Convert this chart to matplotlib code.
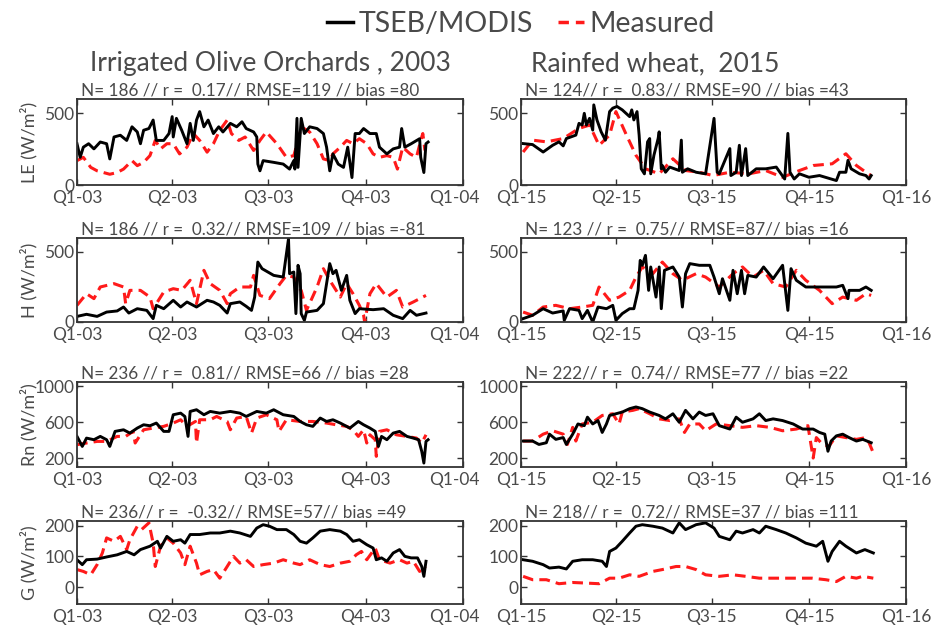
import matplotlib
matplotlib.use("Agg")
import matplotlib.pyplot as plt
from matplotlib.lines import Line2D
from matplotlib.transforms import ScaledTranslation

plt.rcParams['font.family'] = ['Lato', 'DejaVu Sans']

# --- quarter ticks (day of year) ---
q_days = [0, 90, 181, 273, 365]
q_lab_03 = ['Q1-03', 'Q2-03', 'Q3-03', 'Q4-03', 'Q1-04']
q_lab_15 = ['Q1-15', 'Q2-15', 'Q3-15', 'Q4-15', 'Q1-16']

# --- Olive 2003: LE ---
le03_td = [0, 3, 6, 11, 16, 22, 28, 31, 35, 41, 47, 52, 57, 60, 63, 68, 72, 75, 82, 87, 90, 91, 94, 99, 104, 107, 110, 113, 116, 120, 124, 129, 134, 138, 145, 151, 156, 160, 167, 170, 171, 173, 176, 186, 195, 201, 205, 206, 208, 209, 212, 215, 220, 227, 233, 236, 239, 242, 247, 252, 256, 260, 263, 267, 271, 277, 283, 286, 293, 299, 305, 307, 310, 316, 324, 325, 328, 330, 332]
le03_tv = [288, 193, 264, 288, 252, 300, 288, 182, 335, 347, 311, 406, 370, 288, 382, 394, 453, 311, 311, 359, 477, 335, 465, 382, 288, 430, 311, 453, 512, 406, 453, 359, 406, 370, 430, 406, 441, 394, 370, 335, 146, 99, 170, 158, 146, 111, 170, 111, 465, 123, 465, 359, 406, 394, 359, 264, 99, 217, 146, 123, 264, 52, 359, 359, 394, 359, 359, 264, 217, 252, 264, 394, 264, 288, 323, 193, 87, 288, 300]
le03_md = [0, 6, 13, 19, 25, 31, 38, 44, 52, 57, 63, 69, 74, 79, 85, 91, 97, 104, 110, 116, 123, 129, 135, 142, 146, 153, 159, 167, 173, 179, 189, 198, 205, 209, 212, 220, 227, 233, 239, 242, 249, 255, 261, 267, 274, 280, 286, 293, 299, 303, 308, 315, 321, 325, 327, 329]
le03_mv = [170, 193, 123, 99, 87, 75, 87, 111, 170, 135, 158, 205, 311, 252, 288, 288, 217, 264, 359, 311, 229, 288, 382, 453, 359, 311, 335, 241, 311, 370, 288, 193, 205, 311, 406, 370, 288, 182, 170, 217, 264, 311, 288, 323, 288, 217, 193, 205, 193, 111, 264, 217, 193, 311, 359, 241]

# --- Olive 2003: H ---
h03_td = [0, 9, 19, 28, 38, 44, 49, 57, 66, 72, 75, 82, 91, 98, 104, 113, 123, 129, 135, 142, 145, 154, 160, 165, 168, 171, 175, 186, 195, 200, 201, 205, 207, 209, 211, 212, 215, 217, 227, 233, 236, 239, 242, 245, 250, 255, 258, 263, 267, 280, 290, 299, 308, 315, 321, 330]
h03_tv = [40, 55, 40, 71, 79, 107, 64, 95, 83, 24, 119, 95, 155, 107, 143, 107, 155, 143, 119, 64, 131, 143, 112, 83, 178, 428, 381, 333, 321, 595, 345, 357, 60, 405, 345, 60, 12, 71, 83, 131, 274, 417, 345, 369, 226, 333, 155, 60, 95, 88, 95, 48, 24, 83, 48, 64]
h03_md = [0, 9, 16, 22, 35, 44, 46, 50, 60, 69, 72, 82, 91, 99, 107, 113, 120, 126, 135, 142, 145, 154, 164, 167, 173, 182, 192, 198, 205, 209, 212, 217, 227, 233, 239, 249, 255, 261, 267, 271, 272, 277, 283, 293, 302, 308, 318, 330]
h03_mv = [119, 202, 167, 250, 274, 250, 131, 226, 226, 178, 95, 214, 238, 226, 298, 131, 369, 274, 226, 131, 202, 250, 250, 333, 190, 167, 274, 333, 321, 250, 226, 83, 250, 381, 298, 178, 274, 202, 119, 48, 0, 202, 274, 178, 226, 107, 143, 190]

# --- Olive 2003: Rn ---
rn03_td = [0, 5, 9, 16, 22, 28, 31, 36, 44, 50, 57, 63, 69, 75, 82, 87, 91, 98, 102, 105, 107, 113, 120, 126, 135, 145, 154, 160, 170, 179, 186, 195, 205, 211, 217, 223, 230, 236, 242, 249, 258, 266, 271, 277, 282, 285, 288, 293, 299, 305, 312, 318, 323, 326, 328, 330, 332]
rn03_tv = [442, 330, 423, 405, 442, 405, 330, 498, 516, 479, 535, 572, 561, 591, 498, 498, 684, 702, 665, 442, 721, 740, 684, 721, 702, 721, 702, 665, 721, 702, 740, 684, 665, 609, 572, 554, 647, 609, 628, 591, 535, 609, 572, 535, 498, 330, 442, 405, 479, 498, 442, 423, 405, 274, 144, 386, 405]
rn03_md = [0, 9, 19, 28, 38, 46, 53, 55, 63, 72, 82, 91, 98, 104, 112, 113, 116, 126, 132, 142, 145, 151, 160, 165, 170, 179, 189, 191, 198, 211, 223, 236, 245, 255, 261, 266, 271, 274, 277, 282, 283, 286, 293, 302, 312, 321, 326, 330]
rn03_mv = [349, 368, 386, 386, 442, 442, 498, 368, 516, 535, 554, 591, 628, 554, 609, 368, 628, 628, 665, 609, 516, 647, 665, 479, 647, 684, 628, 498, 628, 609, 609, 591, 572, 554, 516, 442, 516, 368, 460, 405, 219, 498, 516, 460, 442, 423, 368, 460]

# --- Olive 2003: G ---
g03_td = [0, 5, 9, 19, 28, 38, 47, 54, 60, 69, 76, 79, 85, 91, 98, 102, 107, 116, 126, 135, 145, 154, 164, 170, 176, 182, 189, 198, 205, 211, 217, 223, 230, 239, 249, 255, 261, 267, 274, 280, 283, 288, 293, 299, 305, 310, 316, 322, 326, 328, 330]
g03_tv = [89, 73, 89, 91, 98, 105, 116, 105, 122, 133, 149, 127, 165, 149, 154, 143, 171, 171, 176, 176, 182, 176, 165, 192, 203, 198, 187, 187, 171, 149, 143, 160, 182, 187, 182, 171, 149, 154, 138, 127, 89, 95, 84, 111, 122, 100, 95, 95, 67, 35, 84]
g03_md = [0, 6, 13, 19, 24, 28, 35, 41, 47, 50, 57, 61, 68, 72, 74, 79, 85, 91, 98, 102, 107, 113, 116, 123, 129, 135, 142, 148, 154, 160, 167, 176, 186, 195, 205, 211, 220, 230, 239, 249, 258, 264, 269, 274, 282, 286, 296, 305, 312, 318, 324, 330]
g03_mv = [57, 51, 40, 73, 111, 160, 149, 165, 122, 154, 198, 187, 209, 143, 67, 133, 160, 143, 111, 73, 133, 78, 40, 51, 57, 29, 67, 100, 78, 89, 67, 73, 78, 89, 78, 73, 89, 73, 67, 78, 84, 105, 116, 89, 127, 89, 78, 89, 78, 84, 51, 67]

# --- Wheat 2015: LE ---
le15_td = [2, 11, 21, 30, 36, 40, 43, 52, 55, 58, 60, 62, 65, 68, 69, 72, 76, 80, 84, 87, 91, 96, 103, 105, 107, 110, 112, 114, 117, 120, 122, 123, 126, 130, 131, 133, 134, 137, 141, 150, 152, 153, 158, 166, 175, 183, 186, 188, 198, 199, 204, 207, 209, 213, 215, 223, 232, 242, 250, 253, 255, 259, 264, 273, 283, 299, 302, 308, 310, 313, 321, 327, 330, 332]
le15_tv = [289, 282, 230, 277, 301, 273, 324, 348, 430, 418, 500, 418, 465, 383, 559, 454, 371, 313, 512, 536, 548, 524, 477, 524, 454, 512, 348, 113, 78, 301, 324, 78, 207, 324, 371, 113, 136, 89, 125, 101, 313, 89, 113, 89, 78, 465, 89, 78, 254, 66, 89, 277, 66, 254, 66, 113, 113, 125, 42, 360, 89, 42, 78, 54, 66, 31, 89, 89, 172, 113, 78, 66, 42, 66]
le15_md = [2, 11, 24, 40, 55, 65, 74, 84, 90, 100, 109, 118, 131, 144, 156, 169, 182, 198, 216, 232, 248, 264, 277, 295, 308, 318, 327, 332]
le15_mv = [230, 313, 301, 324, 395, 418, 277, 348, 512, 348, 207, 113, 78, 183, 101, 89, 66, 89, 78, 101, 54, 101, 136, 148, 218, 136, 89, 66]

# --- Wheat 2015: H ---
h15_td = [2, 11, 21, 30, 40, 41, 46, 55, 58, 63, 68, 73, 81, 87, 90, 96, 103, 107, 111, 113, 115, 118, 121, 123, 128, 131, 133, 136, 144, 150, 153, 156, 160, 169, 179, 183, 188, 191, 198, 201, 205, 209, 212, 215, 223, 230, 239, 248, 253, 256, 261, 270, 283, 299, 305, 310, 311, 321, 327, 332]
h15_tv = [24, 48, 95, 64, 79, 12, 95, 83, 24, 83, 0, 107, 95, 119, 12, 60, 95, 95, 226, 440, 405, 476, 226, 393, 178, 393, 95, 369, 393, 321, 107, 345, 417, 405, 405, 321, 202, 309, 155, 369, 202, 369, 202, 333, 321, 393, 309, 405, 83, 381, 298, 250, 250, 250, 262, 167, 226, 226, 250, 226]
h15_md = [2, 11, 21, 33, 46, 58, 68, 74, 84, 93, 103, 109, 115, 125, 134, 144, 153, 166, 175, 188, 201, 210, 220, 230, 239, 251, 261, 270, 283, 295, 305, 318, 327, 332]
h15_mv = [71, 48, 107, 119, 95, 107, 119, 250, 155, 178, 226, 321, 393, 345, 428, 345, 298, 345, 321, 250, 345, 393, 321, 369, 274, 250, 369, 298, 226, 131, 178, 155, 202, 190]

# --- Wheat 2015: Rn ---
rn15_td = [2, 11, 17, 24, 27, 33, 40, 43, 49, 54, 60, 63, 68, 73, 77, 81, 84, 90, 96, 103, 109, 115, 122, 131, 137, 144, 150, 156, 163, 169, 175, 182, 188, 198, 204, 210, 220, 226, 232, 239, 248, 258, 267, 277, 283, 288, 291, 294, 299, 305, 311, 318, 324, 332]
rn15_tv = [390, 390, 352, 371, 467, 409, 429, 352, 467, 581, 562, 657, 581, 619, 486, 581, 676, 695, 714, 752, 771, 752, 714, 676, 638, 695, 600, 733, 638, 714, 676, 695, 562, 524, 657, 600, 638, 695, 619, 638, 619, 581, 524, 524, 486, 467, 276, 390, 448, 467, 429, 390, 409, 371]
rn15_md = [2, 11, 21, 30, 40, 44, 49, 52, 58, 68, 77, 87, 93, 96, 106, 112, 122, 131, 141, 150, 155, 160, 169, 175, 185, 198, 210, 223, 236, 248, 261, 272, 277, 280, 286, 292, 299, 308, 318, 327, 330, 334]
rn15_mv = [390, 390, 467, 505, 467, 352, 543, 390, 581, 600, 676, 695, 581, 714, 733, 752, 695, 638, 619, 638, 486, 581, 581, 505, 581, 562, 543, 562, 543, 505, 524, 562, 200, 429, 352, 333, 448, 429, 409, 429, 371, 257]

# --- Wheat 2015: G ---
g15_td = [2, 11, 21, 27, 36, 43, 49, 58, 68, 77, 81, 84, 90, 96, 103, 109, 115, 125, 134, 144, 150, 156, 166, 175, 183, 188, 198, 204, 210, 220, 226, 232, 242, 251, 261, 270, 280, 286, 291, 295, 302, 308, 318, 326, 334]
g15_tv = [89, 84, 73, 62, 65, 59, 84, 89, 89, 84, 67, 116, 127, 149, 176, 198, 203, 198, 192, 176, 209, 187, 203, 209, 192, 165, 154, 182, 176, 187, 176, 198, 187, 176, 160, 143, 133, 149, 84, 116, 149, 133, 111, 122, 111]
g15_md = [2, 11, 24, 36, 49, 62, 74, 84, 93, 103, 112, 125, 134, 147, 156, 166, 175, 188, 201, 213, 226, 239, 251, 264, 276, 289, 299, 308, 318, 324, 334]
g15_mv = [35, 24, 24, 11, 15, 13, 11, 29, 29, 40, 35, 51, 57, 67, 67, 57, 40, 35, 40, 35, 29, 29, 29, 29, 29, 24, 18, 35, 29, 35, 29]

TXT = '#4a4a4a'
FRAME = '#333333'
RED = '#ff1a1a'

fig = plt.figure(figsize=(9.32, 6.25), dpi=100)
W, H = 932, 625


def make_ax(x0, x1, top, bottom):
    return fig.add_axes([x0 / W, 1 - bottom / H, (x1 - x0) / W, (bottom - top) / H])


rows = [(99, 185), (238, 322), (382, 467), (521, 604)]
cols = [(77, 463), (521, 906)]

panels = [
    # (row, col, td, tv, md, mv, ylim, yticks, ylabel, stats)
    (0, 0, le03_td, le03_tv, le03_md, le03_mv, (0, 600), [0, 500], 'LE (W/m²)',
     'N= 186 // r =  0.17// RMSE=119 // bias =80'),
    (1, 0, h03_td, h03_tv, h03_md, h03_mv, (0, 600), [0, 500], 'H (W/m²)',
     'N= 186 // r =  0.32// RMSE=109 // bias =-81'),
    (2, 0, rn03_td, rn03_tv, rn03_md, rn03_mv, (100, 1050), [200, 600, 1000], 'Rn (W/m²)',
     'N= 236 // r =  0.81// RMSE=66 // bias =28'),
    (3, 0, g03_td, g03_tv, g03_md, g03_mv, (-55, 215), [0, 100, 200], 'G (W/m²)',
     'N= 236// r =  -0.32// RMSE=57// bias =49'),
    (0, 1, le15_td, le15_tv, le15_md, le15_mv, (0, 600), [0, 500], None,
     'N= 124// r =  0.83// RMSE=90 // bias =43'),
    (1, 1, h15_td, h15_tv, h15_md, h15_mv, (0, 600), [0, 500], None,
     'N= 123 // r =  0.75// RMSE=87// bias =16'),
    (2, 1, rn15_td, rn15_tv, rn15_md, rn15_mv, (100, 1050), [200, 600, 1000], None,
     'N= 222// r =  0.74// RMSE=77 // bias =22'),
    (3, 1, g15_td, g15_tv, g15_md, g15_mv, (-55, 215), [0, 100, 200], None,
     'N= 218// r =  0.72// RMSE=37 // bias =111'),
]

for r, c, td, tv, md, mv, ylim, yt, ylab, stats in panels:
    ax = make_ax(cols[c][0], cols[c][1], rows[r][0], rows[r][1])
    ax.plot(md, mv, color=RED, lw=2.2, dashes=(3.5, 2))
    ax.plot(td, tv, color='black', lw=2.1)
    ax.set_xlim(0, 365)
    ax.set_ylim(*ylim)
    ax.set_xticks(q_days)
    ax.set_xticklabels(q_lab_03 if c == 0 else q_lab_15)
    ax.set_yticks(yt)
    ax.tick_params(direction='in', top=True, right=True, length=4, width=1,
                   colors=FRAME, labelcolor=TXT, labelsize=12.5, pad=2)
    ax.tick_params(axis='x', pad=3.5)
    for s in ax.spines.values():
        s.set_color(FRAME)
        s.set_linewidth(1.3)
    if c == 0:
        # last quarter label sits a bit left so it clears the right column
        lbl = ax.get_xticklabels()[-1]
        lbl.set_transform(lbl.get_transform() + ScaledTranslation(-0.09, 0, fig.dpi_scale_trans))
    if ylab:
        ax.set_ylabel(ylab, fontsize=13, color=TXT)
        ax.yaxis.set_label_coords(-0.102, 0.5)
    ax.text(0.01, 1.01, stats, transform=ax.transAxes, ha='left', va='bottom',
            fontsize=12.3, color=TXT)

fig.text(270 / W, 1 - 71 / H, 'Irrigated Olive Orchards , 2003', ha='center',
         va='baseline', fontsize=19, color=TXT)
fig.text(531 / W, 1 - 71 / H, 'Rainfed wheat,  2015', ha='left',
         va='baseline', fontsize=19, color=TXT)

handles = [Line2D([], [], color='black', lw=2.5),
           Line2D([], [], color=RED, lw=2.5, dashes=(3, 2))]
fig.legend(handles, ['TSEB/MODIS', 'Measured'], loc='center', ncol=2,
           bbox_to_anchor=(521 / W, 1 - 24 / H), frameon=False, fontsize=20.5,
           handlelength=0.9, handletextpad=0.2, columnspacing=0.9,
           labelcolor=TXT)

fig.savefig('out.png', dpi=100)
